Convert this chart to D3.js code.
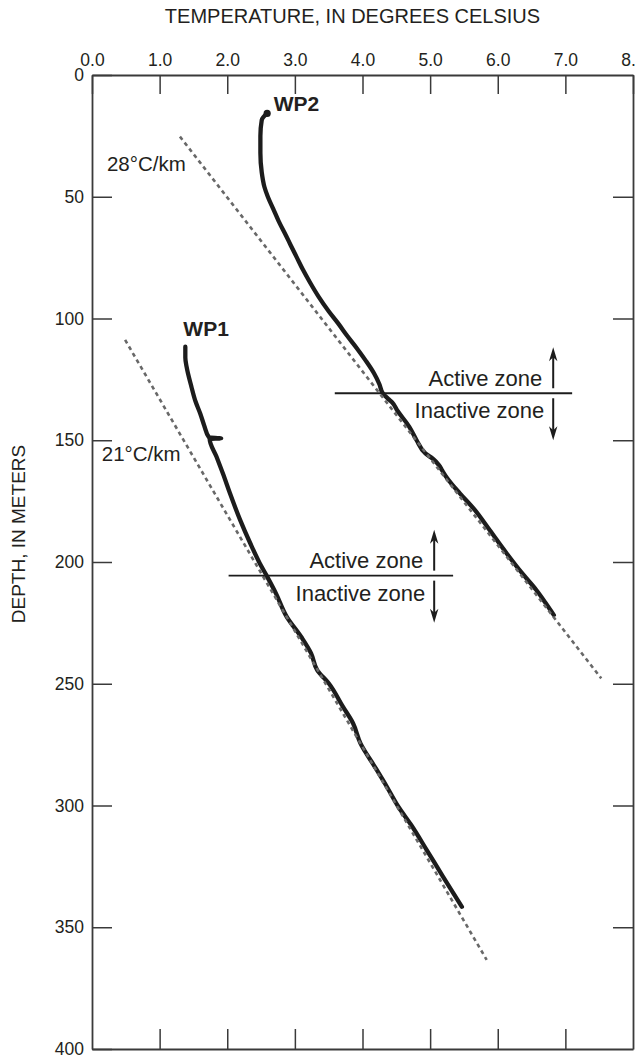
<!DOCTYPE html>
<html>
<head>
<meta charset="utf-8">
<script src="https://cdn.jsdelivr.net/npm/d3@7/dist/d3.min.js"></script>
<style>
  html, body { margin: 0; padding: 0; background: #fff; }
  svg { display: block; }
  text { font-family: "Liberation Sans", Arial, Helvetica, sans-serif; fill: #231f20; }
</style>
</head>
<body>
<div id="chart"></div>
<script>
// Temperature profiles in two wells, WP1 and WP2
const xTicks = [0, 1, 2, 3, 4, 5, 6, 7, 8];
const yTicks = [0, 50, 100, 150, 200, 250, 300, 350, 400];

// WP1: depth (m) and temperature (°C)
const wp1Depth = [111.6, 116, 120, 128, 134, 139, 144, 148.8, 149.2, 149.5, 156.7, 164, 171.8, 182.7,
  192.3, 200.5, 206, 212.9, 222.5, 231, 237.5, 244.4, 249.8, 259.4, 266.2, 274.5, 284, 292.3,
  300.5, 308, 318.3, 329.2, 341.6];
const wp1Temp = [1.38, 1.38, 1.40, 1.47, 1.53, 1.60, 1.66, 1.73, 1.91, 1.74, 1.84, 1.94, 2.04, 2.19,
  2.34, 2.48, 2.59, 2.72, 2.88, 3.10, 3.24, 3.33, 3.50, 3.71, 3.86, 3.97, 4.18, 4.36,
  4.53, 4.72, 4.95, 5.19, 5.47];

// WP2: depth (m) and temperature (°C)
const wp2Depth = [15.8, 18.5, 25, 32, 40, 46, 50, 55, 60, 66, 70, 75, 80, 85, 91, 97, 102, 107, 112,
  117, 122.5, 127, 130.7, 133, 134.5, 138, 144.4, 150, 155.4, 157.6, 160.2, 162.5, 165.5, 168,
  171.8, 178.6, 186.9, 196.4, 204.6, 211.5, 216.5, 221.8];
const wp2Temp = [2.59, 2.51, 2.49, 2.49, 2.51, 2.55, 2.60, 2.68, 2.76, 2.87, 2.94, 3.03, 3.12, 3.22,
  3.35, 3.50, 3.64, 3.77, 3.91, 4.04, 4.17, 4.25, 4.30, 4.38, 4.44, 4.52, 4.69, 4.80, 4.93, 5.04,
  5.13, 5.18, 5.25, 5.32, 5.44, 5.66, 5.88, 6.13, 6.36, 6.57, 6.70, 6.83];

// Reference geothermal gradients (°C/km), surface intercepts (°C) and depth extents (m)
const gradientLabels = ["28°C/km", "21°C/km"];
const gradientRates = [28, 21];
const gradientIntercepts = [0.592, -1.795];
const gradientTop = [25.3, 108.8];
const gradientBottom = [247.8, 363.4];

// Active / inactive zone boundaries for WP1 and WP2
const zoneDepths = [205.6, 130.7];
const zoneTempFrom = [2.02, 3.59];
const zoneTempTo = [5.34, 7.10];
const zoneArrowTemp = [5.06, 6.82];

const W = 635, H = 1057;
const svg = d3.select("#chart").append("svg").attr("width", W).attr("height", H);

const x = d3.scaleLinear().domain([0, 8]).range([92, 633]);
const y = d3.scaleLinear().domain([0, 400]).range([75, 1049]);

const axisColor = "#3a3a3a";

function styleAxis(g) {
  g.select(".domain").attr("stroke", axisColor).attr("stroke-width", 1.8);
  g.selectAll(".tick line").attr("stroke", axisColor).attr("stroke-width", 1.5);
  g.selectAll(".tick text").attr("fill", "#231f20").style("font-size", "17.5px")
    .attr("font-family", "Liberation Sans, Arial, sans-serif");
}

// top axis with labels
svg.append("g").attr("transform", `translate(0,${y(0)})`)
  .call(d3.axisTop(x).tickValues(xTicks).tickFormat(d3.format(".1f"))
    .tickSizeInner(-19).tickSizeOuter(0).tickPadding(9))
  .call(styleAxis);

// bottom axis, ticks only
svg.append("g").attr("transform", `translate(0,${y(400)})`)
  .call(d3.axisBottom(x).tickValues(xTicks.slice(1, -1)).tickFormat("")
    .tickSizeInner(-20).tickSizeOuter(0))
  .call(styleAxis);

// left axis with labels
svg.append("g").attr("transform", `translate(${x(0)},0)`)
  .call(d3.axisLeft(y).tickValues(yTicks).tickFormat(d3.format("d"))
    .tickSizeInner(-20).tickSizeOuter(0).tickPadding(8))
  .call(styleAxis);

// right axis, ticks only
svg.append("g").attr("transform", `translate(${x(8)},0)`)
  .call(d3.axisRight(y).tickValues(yTicks.slice(1, -1)).tickFormat("")
    .tickSizeInner(-20).tickSizeOuter(0))
  .call(styleAxis);

// axis titles
svg.append("text").attr("x", 352.5).attr("y", 23).attr("text-anchor", "middle")
  .style("font-size", "20px").text("TEMPERATURE, IN DEGREES CELSIUS");
svg.append("text").attr("transform", "translate(25,534) rotate(-90)").attr("text-anchor", "middle")
  .style("font-size", "19px").text("DEPTH, IN METERS");

// temperature profiles
const line = d3.line().x(d => x(d.t)).y(d => y(d.d));
const profile = d3.line().x(d => x(d.t)).y(d => y(d.d)).curve(d3.curveMonotoneY);
const wells = [
  { name: "WP1", pts: wp1Depth.map((d, i) => ({ d, t: wp1Temp[i] })), dx: -2, dy: -10.5 },
  { name: "WP2", pts: wp2Depth.map((d, i) => ({ d, t: wp2Temp[i] })), dx: 6.5, dy: -2.5 }
];

wells.forEach(w => {
  svg.append("path").datum(w.pts).attr("d", profile)
    .attr("fill", "none").attr("stroke", "#1c1c1c").attr("stroke-width", 4.3)
    .attr("stroke-linejoin", "round").attr("stroke-linecap", "round");
  const p0 = w.pts[0];
  svg.append("text").attr("x", x(p0.t) + w.dx).attr("y", y(p0.d) + w.dy)
    .style("font-size", "21px").style("font-weight", "bold").text(w.name);
});
// thickened end point at the top of the WP2 log
svg.append("circle").attr("cx", x(wp2Temp[0])).attr("cy", y(wp2Depth[0])).attr("r", 3.6).attr("fill", "#1c1c1c");

// gradient reference lines (rate in °C/km -> °C per metre)
const gradLabelPos = [[0.22, 39.3], [0.144, 158.5]];
gradientRates.forEach((rate, i) => {
  const f = d => gradientIntercepts[i] + rate / 1000 * d;
  const pts = [gradientTop[i], gradientBottom[i]].map(d => ({ d, t: f(d) }));
  svg.append("path").datum(pts).attr("d", line)
    .attr("fill", "none").attr("stroke", "#686868").attr("stroke-width", 2.6)
    .attr("stroke-dasharray", "4 3.6");
  svg.append("text").attr("x", x(gradLabelPos[i][0])).attr("y", y(gradLabelPos[i][1]))
    .style("font-size", "20.5px").text(gradientLabels[i]);
});

// active / inactive zone markers
function arrow(ax, from, to) {
  const dir = Math.sign(to - from);
  svg.append("line").attr("x1", ax).attr("x2", ax).attr("y1", from).attr("y2", to - dir * 8)
    .attr("stroke", "#1c1c1c").attr("stroke-width", 2);
  svg.append("path")
    .attr("d", `M${ax},${to} L${ax - 4.2},${to - dir * 14} L${ax},${to - dir * 10} L${ax + 4.2},${to - dir * 14} Z`)
    .attr("fill", "#1c1c1c");
}
zoneDepths.forEach((zd, i) => {
  const yl = y(zd), ax = x(zoneArrowTemp[i]);
  svg.append("line").attr("x1", x(zoneTempFrom[i])).attr("x2", x(zoneTempTo[i]))
    .attr("y1", yl).attr("y2", yl).attr("stroke", "#1c1c1c").attr("stroke-width", 1.8);
  svg.append("text").attr("x", ax - 11).attr("y", yl - 7.5).attr("text-anchor", "end")
    .style("font-size", "22px").text("Active zone");
  svg.append("text").attr("x", ax - 9).attr("y", yl + 25).attr("text-anchor", "end")
    .style("font-size", "22px").text("Inactive zone");
  arrow(ax, yl - 5, yl - 46);
  arrow(ax, yl + 5, yl + 47);
});
</script>
</body>
</html>
